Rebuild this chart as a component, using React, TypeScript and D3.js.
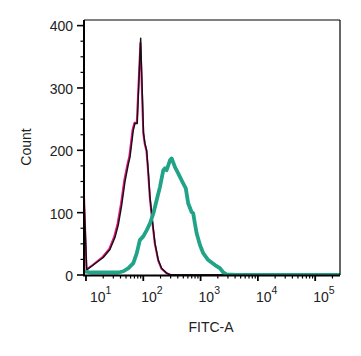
import React from "react";
import * as d3 from "d3";

// FITC-A values (x) and counts (y) per series
const blackX = [9.23, 10.3, 13.4, 20, 26.2, 32, 36.6, 42, 48, 54.7, 58.6, 66.9, 71.6, 78.5, 90, 101, 107, 114.6, 122, 131, 146, 160, 183, 209, 256, 300, 271000];
const blackY = [125, 8, 16, 28, 41, 60, 80, 112, 150, 177, 189, 232, 243, 243, 380, 228, 211, 200, 168, 125, 83, 51, 24, 11, 3, 0, 0];

const magentaX = [9.23, 10.2, 13.1, 19.5, 25.5, 31, 35.5, 40.8, 46.6, 53, 57, 65, 70, 77, 89, 100, 106, 113.5, 121, 130, 145, 159, 182, 208, 255, 300, 271000];
const magentaY = [128, 9, 16, 29, 42, 61, 82, 114, 152, 178, 190, 233, 244, 244, 372, 227, 210, 199, 167, 124, 82, 50, 23, 10, 3, 0, 0];

const greenX = [9.23, 12, 20, 37, 45, 55, 67, 77, 87, 100, 115, 131, 150, 171, 195, 223, 239, 255, 292, 313, 357, 407, 466, 497, 552, 607, 696, 743, 794, 853, 975, 1112, 1360, 1783, 2170, 2490, 2840, 4260, 271000];
const greenY = [6, 4, 4, 4, 6, 11, 19, 35, 56, 62, 72, 83, 99, 120, 141, 168, 171, 168, 184, 187, 173, 163, 152, 147, 139, 115, 101, 99, 83, 67, 48, 35, 24, 16, 11, 4, 1, 0, 0];

const yTicks = [0, 100, 200, 300, 400];
const xDecades = [1, 2, 3, 4, 5];

const W = 361, H = 356;
const L = 84, R = 340, T = 20, B = 275;

export default function App() {
  const x = d3.scaleLog().domain([9.23, 271000]).range([L, R]);
  const y = d3.scaleLinear().domain([0, 409]).range([B, T]);
  const line = d3.line<[number, number]>().x(d => x(d[0])).y(d => y(d[1])).curve(d3.curveLinear);
  const pts = (xs: number[], ys: number[]) => xs.map((v, i) => [v, ys[i]] as [number, number]);

  const minorY: number[] = d3.range(0, 409, 25).filter(v => v % 100 !== 0);
  const minorX: number[] = [];
  for (let e = 0; e <= 5; e++) {
    for (let k = 2; k <= 9; k++) {
      const v = k * Math.pow(10, e);
      if (v >= 9.23 && v <= 271000) minorX.push(v);
    }
  }
  const font = "Liberation Sans, Arial, sans-serif";
  const textColor = "#222";

  return (
    <svg width={W} height={H} style={{ position: "absolute", left: 0, top: 0 }}>
      <defs>
        <clipPath id="plot">
          <rect x={L} y={T} width={R - L} height={B - T} />
        </clipPath>
      </defs>
      <rect x={0} y={0} width={W} height={H} fill="#fff" />
      <g clipPath="url(#plot)">
        <path d={line(pts(magentaX, magentaY)) || ""} fill="none" stroke="#e3157f" strokeWidth={2} strokeLinejoin="round" />
        <path d={line(pts(blackX, blackY)) || ""} fill="none" stroke="#111" strokeWidth={1.4} strokeLinejoin="round" />
        <path d={line(pts(greenX, greenY)) || ""} fill="none" stroke="#20a386" strokeWidth={3.8} strokeLinejoin="round" />
      </g>
      {/* frame */}
      <line x1={L} x2={R} y1={T} y2={T} stroke="#000" strokeWidth={1} />
      <line x1={R} x2={R} y1={T} y2={B} stroke="#000" strokeWidth={1.2} />
      <line x1={L} x2={L} y1={T} y2={B + 1} stroke="#000" strokeWidth={2} />
      <line x1={L - 1} x2={R} y1={B + 0.5} y2={B + 0.5} stroke="#000" strokeWidth={2} />
      {/* y ticks */}
      {yTicks.map(t => (
        <g key={"yt" + t}>
          <line x1={L - 7} x2={L} y1={y(t)} y2={y(t)} stroke="#000" strokeWidth={1.6} />
          <text x={L - 11} y={y(t)} dy="0.42em" textAnchor="end" fontFamily={font} fontSize={14} fill={textColor}>{t}</text>
        </g>
      ))}
      {minorY.map(t => (
        <line key={"ym" + t} x1={L - 3.5} x2={L} y1={y(t)} y2={y(t)} stroke="#000" strokeWidth={1.2} />
      ))}
      {/* x ticks */}
      {xDecades.map(e => {
        const px = x(Math.pow(10, e));
        const lx = e === 1 ? 90 : px - 2;
        return (
          <g key={"xt" + e}>
            <line x1={px} x2={px} y1={B} y2={B + 6} stroke="#000" strokeWidth={1.8} />
            <text x={lx} y={302} fontFamily={font} fontSize={14} fill={textColor}>
              10
              <tspan dy={-8} fontSize={10.5}>{e}</tspan>
            </text>
          </g>
        );
      })}
      {minorX.map(v => (
        <line key={"xm" + v} x1={x(v)} x2={x(v)} y1={B} y2={B + 3.5} stroke="#000" strokeWidth={1.2} />
      ))}
      {/* axis titles */}
      <text x={211} y={332} textAnchor="middle" fontFamily={font} fontSize={14} fill={textColor}>FITC-A</text>
      <text transform={`translate(31,147) rotate(-90)`} textAnchor="middle" fontFamily={font} fontSize={14} fill={textColor}>Count</text>
    </svg>
  );
}
